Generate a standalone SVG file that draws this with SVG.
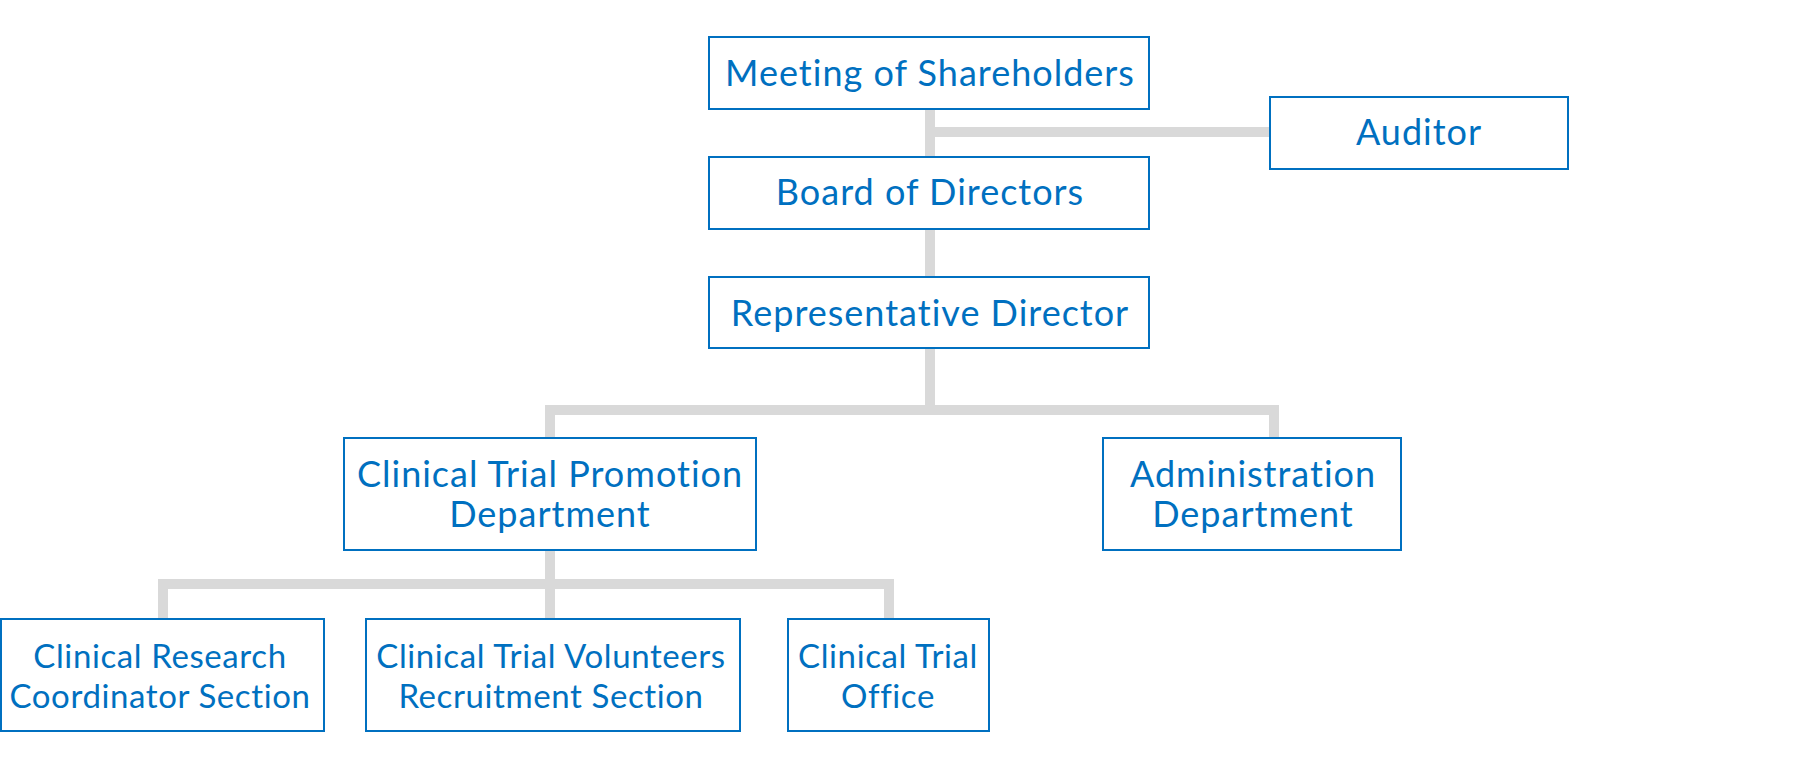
<svg xmlns="http://www.w3.org/2000/svg" width="1800" height="760" viewBox="0 0 1800 760">
<style>
  .box { fill: #ffffff; stroke: #0070c0; stroke-width: 2; }
  .lbl { font-family: Lato, "Liberation Sans", sans-serif; font-size: 36px; letter-spacing: 1px; fill: #0070c0; text-anchor: middle; }
  .sm { font-size: 33px; letter-spacing: 0.6px; }
  .conn { fill: none; stroke: #d9d9d9; stroke-width: 10; stroke-linejoin: miter; }
</style>
<rect width="1800" height="760" fill="#ffffff"/>
<g id="connectors">
  <path class="conn" d="M930 109 V157"/>
  <path class="conn" d="M930 132 H1270"/>
  <path class="conn" d="M930 229 V277"/>
  <path class="conn" d="M930 348 V410"/>
  <path class="conn" d="M550 438 V410 H1274 V438"/>
  <path class="conn" d="M550 550 V619"/>
  <path class="conn" d="M163 619 V584 H889 V619"/>
</g>
<g id="meeting">
  <rect class="box" x="709" y="37" width="440" height="72"/>
  <text class="lbl" x="930" y="86">Meeting of Shareholders</text>
</g>
<g id="auditor">
  <rect class="box" x="1270" y="97" width="298" height="72"/>
  <text class="lbl" x="1419" y="145">Auditor</text>
</g>
<g id="board">
  <rect class="box" x="709" y="157" width="440" height="72"/>
  <text class="lbl" x="930" y="205">Board of Directors</text>
</g>
<g id="representative">
  <rect class="box" x="709" y="277" width="440" height="71"/>
  <text class="lbl" x="930" y="326">Representative Director</text>
</g>
<g id="ctp">
  <rect class="box" x="344" y="438" width="412" height="112"/>
  <text class="lbl" x="550" y="487">Clinical Trial Promotion</text>
  <text class="lbl" x="550" y="527">Department</text>
</g>
<g id="admin">
  <rect class="box" x="1103" y="438" width="298" height="112"/>
  <text class="lbl" x="1253" y="487">Administration</text>
  <text class="lbl" x="1253" y="527">Department</text>
</g>
<g id="crc">
  <rect class="box" x="1" y="619" width="323" height="112"/>
  <text class="lbl sm" x="160" y="668">Clinical Research</text>
  <text class="lbl sm" x="160" y="708">Coordinator Section</text>
</g>
<g id="ctv">
  <rect class="box" x="366" y="619" width="374" height="112"/>
  <text class="lbl sm" x="551" y="668">Clinical Trial Volunteers</text>
  <text class="lbl sm" x="551" y="708">Recruitment Section</text>
</g>
<g id="office">
  <rect class="box" x="788" y="619" width="201" height="112"/>
  <text class="lbl sm" x="888" y="668">Clinical Trial</text>
  <text class="lbl sm" x="888" y="708">Office</text>
</g>
</svg>
